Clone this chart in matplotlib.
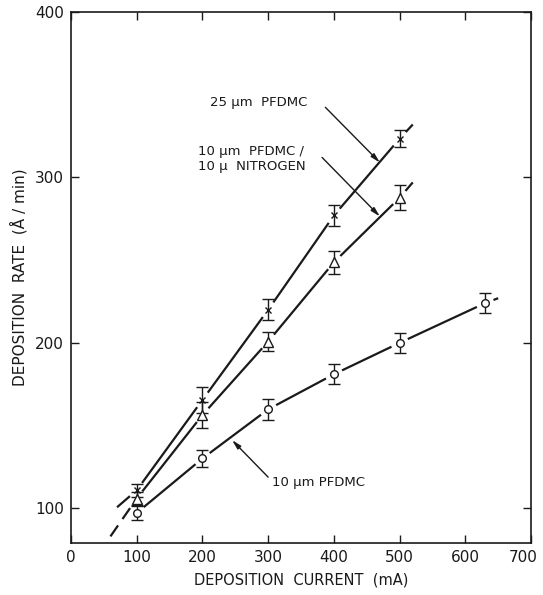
import numpy as np
import matplotlib
matplotlib.use("Agg")
import matplotlib.pyplot as plt
from matplotlib.transforms import ScaledTranslation

# ---- data ----
current = [100, 200, 300, 400, 500]
rate_25 = [110.9, 165.5, 220.0, 277.0, 323.4]
err_25 = [4, 8, 6.4, 6.5, 5]
rate_10n = [105.9, 156.4, 200.8, 248.7, 287.7]
err_10n = [4, 8, 5.6, 7, 7.6]
current_10 = [100, 200, 300, 400, 500, 630]
rate_10 = [97.2, 130.1, 159.8, 181.0, 200.0, 224.0]
err_10 = [4, 5, 6.5, 6, 6, 6]

# extrapolated ends of the hand-drawn curves (mA, rate)
start_25, end_25 = (70, 100.6), (520, 332)
start_10n, end_10n = (60, 83), (520, 297)
end_10 = (650, 227)

x_ticks = [0, 100, 200, 300, 400, 500, 600, 700]
y_ticks = [100, 200, 300, 400]

plt.rcParams['font.family'] = ['DejaVu Sans']

fig = plt.figure(figsize=(5.43, 5.95), dpi=100)
ax = fig.add_axes([0.1308, 0.0874, 0.8472, 0.8924])
ax.set_xlim(0, 700)
ax.set_ylim(79, 400)

ink = '#1a1a1a'
GAP = 9.0


def gapped(xs, ys, marks):
    pts = ax.transData.transform(np.column_stack([xs, ys]))
    inv = ax.transData.inverted()
    segs = []
    for i in range(len(pts) - 1):
        p0, p1 = pts[i], pts[i + 1]
        d = p1 - p0
        u = d / np.hypot(*d)
        a = p0 + u * GAP * marks[i]
        b = p1 - u * GAP * marks[i + 1]
        segs.append(inv.transform(np.array([a, b])))
    return segs


def draw_curve(xs, ys, marks, first_dashed=False):
    for k, s in enumerate(gapped(xs, ys, marks)):
        ls = (0, (6, 3.5)) if (first_dashed and k == 0) else '-'
        ax.plot(s[:, 0], s[:, 1], color=ink, lw=1.6, ls=ls, solid_capstyle='butt')


# curves
draw_curve([start_25[0]] + current + [end_25[0]],
           [start_25[1]] + rate_25 + [end_25[1]],
           [0] + [1] * len(current) + [0])
draw_curve([start_10n[0]] + current + [end_10n[0]],
           [start_10n[1]] + rate_10n + [end_10n[1]],
           [0] + [1] * len(current) + [0], first_dashed=True)
draw_curve(current_10 + [end_10[0]], rate_10 + [end_10[1]],
           [1] * len(current_10) + [0])

# points with error bars
ekw = dict(ecolor=ink, elinewidth=1.0, capsize=4, capthick=1.0, ls='none')
ax.errorbar(current, rate_25, yerr=err_25, marker='x', ms=5, mew=1.0,
            mec=ink, **ekw)
ax.errorbar(current, rate_10n, yerr=err_10n, marker='^', ms=6.5, mew=1.0,
            mec=ink, mfc='white', **ekw)
ax.errorbar(current_10, rate_10, yerr=err_10, marker='o', ms=5.5, mew=1.0,
            mec=ink, mfc='white', **ekw)

# labels with arrows
tkw = dict(fontsize=9.5, color=ink, va='center', ha='left')
akw = dict(arrowstyle='-|>,head_length=0.55,head_width=0.14', color=ink,
           lw=1.0, shrinkA=0, shrinkB=0)
ax.text(211, 345.5, '25 µm  PFDMC', **tkw)
ax.annotate('', xy=(470, 309), xytext=(387, 342.4), arrowprops=akw)
ax.text(193, 311, '10 µm  PFDMC /\n10 µ  NITROGEN', linespacing=1.25, **tkw)
ax.annotate('', xy=(470, 276.4), xytext=(382, 312.1), arrowprops=akw)
ax.text(306, 115.8, '10 µm PFDMC', **tkw)
ax.annotate('', xy=(245, 141.2), xytext=(300, 118.8), arrowprops=akw)

# axes styling
ax.set_xticks(x_ticks)
ax.set_yticks(y_ticks)
ax.tick_params(direction='in', length=6, width=1.0, top=True, right=True,
               labelsize=11, colors=ink, pad=5)
for sp in ax.spines.values():
    sp.set_linewidth(1.2)
    sp.set_color(ink)

# keep the last x tick label inside the figure edge
last = ax.get_xticklabels()[-1]
last.set_transform(last.get_transform() + ScaledTranslation(-0.08, 0, fig.dpi_scale_trans))

ax.set_xlabel('DEPOSITION  CURRENT  (mA)', fontsize=10.5, color=ink)
ax.set_ylabel('DEPOSITION  RATE  (Å / min)', fontsize=11, color=ink)
ax.xaxis.set_label_coords(0.5, -0.056)
ax.yaxis.set_label_coords(-0.095, 0.5)

fig.savefig('out.png', dpi=100, facecolor='white')
